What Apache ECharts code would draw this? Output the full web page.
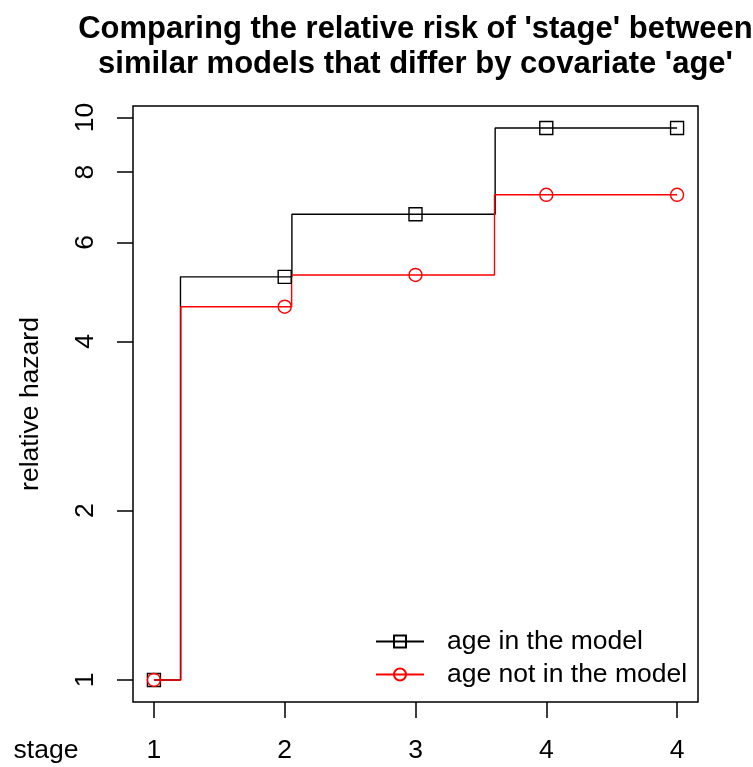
<!DOCTYPE html>
<html><head><meta charset="utf-8">
<script src="https://cdn.jsdelivr.net/npm/echarts@6/dist/echarts.min.js"></script>
<style>html,body{margin:0;padding:0;background:#fff}#c{width:753px;height:767px}</style>
</head><body><div id="c"></div>
<script>
// ---- data ----
const stagePositions = [1, 2, 3, 4, 5];
const stageLabels = ['1', '2', '3', '4', '4'];
const ageInModel = [1, 5.21, 6.73, 9.58, 9.58];
const ageNotInModel = [1, 4.61, 5.25, 7.29, 7.29];
const ageInStepAt = [1.203, 2.055, 3.609, null];
const ageNotInStepAt = [1.206, 2.053, 3.604, null];
const yTickValues = [1, 2, 4, 6, 8, 10];
const seriesNames = ['age in the model', 'age not in the model'];
const titleText = "Comparing the relative risk of 'stage' between\nsimilar models that differ by covariate 'age'";
const yName = 'relative hazard';
const xName = 'stage';

// ---- helpers ----
const FONT = '"Liberation Sans", Arial, Helvetica, sans-serif';
const FS = 26.5;
function buildPath(values, steps) {
  const out = [];
  for (let i = 0; i < values.length; i++) {
    out.push({ value: [stagePositions[i], Math.log10(values[i])] });
    if (i < values.length - 1 && steps[i] != null) {
      out.push({ value: [steps[i], Math.log10(values[i])], symbol: 'none' });
      out.push({ value: [steps[i], Math.log10(values[i + 1])], symbol: 'none' });
    }
  }
  return out;
}
const xLo = Math.min(...stagePositions), xHi = Math.max(...stagePositions);
const xPad = (xHi - xLo) * 0.04;
const allVals = ageInModel.concat(ageNotInModel).map(Math.log10);
const yLo = Math.min(...allVals), yHi = Math.max(...allVals);
const yPad = (yHi - yLo) * 0.04;

const chart = echarts.init(document.getElementById('c'), null, { renderer: 'canvas' });
chart.setOption({
  animation: false,
  backgroundColor: '#fff',
  title: {
    text: titleText,
    left: 415.5, top: 12, padding: 0, textAlign: 'center',
    textStyle: { fontFamily: FONT, fontWeight: 'bold', fontSize: 31, lineHeight: 35, color: '#000' }
  },
  grid: {
    left: 133, top: 106, right: 55, bottom: 65,
    show: true, borderColor: '#000', borderWidth: 1.5, backgroundColor: 'transparent'
  },
  legend: {
    orient: 'vertical', left: 375, top: 628, padding: 0,
    itemWidth: 48, itemHeight: 15, itemGap: 6,
    data: seriesNames,
    textStyle: { fontFamily: FONT, fontSize: FS, color: '#000', padding: [0, 0, 0, 18] }
  },
  xAxis: {
    type: 'value', min: xLo - xPad, max: xHi + xPad,
    axisLine: { show: false, onZero: false }, splitLine: { show: false },
    axisTick: { show: true, customValues: stagePositions, length: 16, lineStyle: { color: '#000', width: 1.5 } },
    axisLabel: {
      customValues: stagePositions,
      formatter: v => stageLabels[stagePositions.indexOf(Math.round(v))],
      margin: 49, fontSize: FS, color: '#000', fontFamily: FONT,
      align: 'center', verticalAlign: 'middle'
    }
  },
  yAxis: {
    type: 'value', min: yLo - yPad, max: yHi + yPad,
    axisLine: { show: false, onZero: false }, splitLine: { show: false },
    name: yName, nameLocation: 'middle', nameGap: 102,
    nameTextStyle: { fontFamily: FONT, fontSize: FS, color: '#000', verticalAlign: 'middle', align: 'center' },
    axisTick: { show: true, customValues: yTickValues.map(Math.log10), length: 16, lineStyle: { color: '#000', width: 1.5 } },
    axisLabel: {
      customValues: yTickValues.map(Math.log10),
      formatter: v => String(Math.round(Math.pow(10, v))),
      rotate: 90, margin: 47, fontSize: FS, color: '#000', fontFamily: FONT,
      align: 'center', verticalAlign: 'middle'
    }
  },
  graphic: [{
    type: 'text', x: 46, y: 751,
    style: { text: xName, font: FS + 'px ' + FONT, fill: '#000', align: 'center', verticalAlign: 'middle' }
  }],
  series: [
    {
      name: seriesNames[0], type: 'line', data: buildPath(ageInModel, ageInStepAt),
      symbol: 'rect', symbolSize: 13, showAllSymbol: true,
      lineStyle: { color: '#000', width: 1.4 },
      itemStyle: { color: 'rgba(0,0,0,0)', borderColor: '#000', borderWidth: 1.4 },
      emphasis: { disabled: true }
    },
    {
      name: seriesNames[1], type: 'line', data: buildPath(ageNotInModel, ageNotInStepAt),
      symbol: 'circle', symbolSize: 13, showAllSymbol: true,
      lineStyle: { color: '#ff0000', width: 1.4 },
      itemStyle: { color: 'rgba(0,0,0,0)', borderColor: '#ff0000', borderWidth: 1.4 },
      emphasis: { disabled: true }
    }
  ]
});
</script></body></html>
